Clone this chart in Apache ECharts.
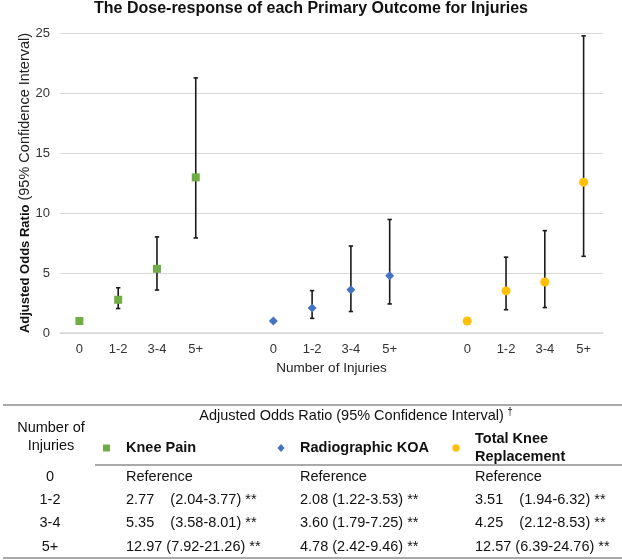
<!DOCTYPE html>
<html><head><meta charset="utf-8">
<script src="https://cdn.jsdelivr.net/npm/echarts@6/dist/echarts.min.js"></script>
<style>html,body{margin:0;padding:0;background:#fff}#c{width:622px;height:560px}</style>
</head><body><div id="c"></div>
<script>
// ---- data ----
const groupLabels = ['0', '1-2', '3-4', '5+'];
const seriesNames = ['Knee Pain', 'Radiographic KOA', 'Total Knee Replacement'];
const kneePainOR = [1, 2.77, 5.35, 12.97];
const kneePainLo = [null, 2.04, 3.58, 7.92];
const kneePainHi = [null, 3.77, 8.01, 21.26];
const koaOR = [1, 2.08, 3.60, 4.78];
const koaLo = [null, 1.22, 1.79, 2.42];
const koaHi = [null, 3.53, 7.25, 9.46];
const tkrOR = [1, 3.51, 4.25, 12.57];
const tkrLo = [null, 1.94, 2.12, 6.39];
const tkrHi = [null, 6.32, 8.53, 24.76];
const yTicks = [0, 5, 10, 15, 20, 25];

const FONT = "'Liberation Sans', Arial, sans-serif";
const colors = ['#70AD47', '#4472C4', '#FFC000'];
const symbols = ['rect', 'diamond', 'circle'];
const symbolSizes = [8, [9, 9], 9];
const ORs = [kneePainOR, koaOR, tkrOR];
const LOs = [kneePainLo, koaLo, tkrLo];
const HIs = [kneePainHi, koaHi, tkrHi];

// categories: 3 groups of 4 separated by blank slots
const categories = [];
groupLabels.forEach(l => categories.push(l)); categories.push('');
groupLabels.forEach(l => categories.push(l)); categories.push('');
groupLabels.forEach(l => categories.push(l));

const series = [];
const errData = [];
ORs.forEach((arr, g) => {
  arr.forEach((v, i) => {
    if (LOs[g][i] != null) errData.push([g * 5 + i, LOs[g][i], HIs[g][i]]);
  });
});
series.push({
  type: 'custom', z: 1, silent: true,
  data: errData,
  encode: { x: 0, y: [1, 2] },
  renderItem: function (params, api) {
    const lo = api.coord([api.value(0), api.value(1)]);
    const hi = api.coord([api.value(0), api.value(2)]);
    const w = 2.2;
    const st = { stroke: '#1a1a1a', lineWidth: 1.6 };
    return {
      type: 'group', children: [
        { type: 'line', shape: { x1: lo[0], y1: lo[1], x2: hi[0], y2: hi[1] }, style: st },
        { type: 'line', shape: { x1: lo[0] - w, y1: lo[1], x2: lo[0] + w, y2: lo[1] }, style: st },
        { type: 'line', shape: { x1: hi[0] - w, y1: hi[1], x2: hi[0] + w, y2: hi[1] }, style: st }
      ]
    };
  }
});
ORs.forEach((arr, g) => {
  series.push({
    name: seriesNames[g], type: 'scatter', z: 5,
    symbol: symbols[g], symbolSize: symbolSizes[g],
    itemStyle: { color: colors[g], opacity: 1 },
    data: arr.map((v, i) => [g * 5 + i, v])
  });
});

// ---- table (graphic) ----
const fmt = v => v.toFixed(2);
const padCols = [true, false, true];
const colX = [126, 300, 475];
const rowY = [477, 500, 523, 547];
const TF = '14.5px ' + FONT;
const tStyle = { font: TF, fill: '#111' };
const graphics = [];
// y-axis title (rotated)
graphics.push({
  type: 'text', x: 25, y: 183, rotation: Math.PI / 2,
  style: {
    text: '{b|Adjusted Odds Ratio}{r| (95% Confidence Interval)}',
    align: 'center', verticalAlign: 'middle',
    rich: { b: { font: 'bold 13px ' + FONT, fill: '#111' }, r: { font: '14.5px ' + FONT, fill: '#222' } }
  }
});
const line = (x1, y1, x2, y2, w) => graphics.push({ type: 'line', shape: { x1, y1, x2, y2 }, style: { stroke: '#8c8c8c', lineWidth: w } });
line(3, 405, 622, 405, 1.6);
line(95, 465, 622, 465, 1.6);
line(3, 558, 622, 558, 1.6);
graphics.push({ type: 'text', x: 356, y: 416, style: { text: '{n|Adjusted Odds Ratio (95% Confidence Interval)} {s|†}', align: 'center', verticalAlign: 'middle', fill: '#111', rich: { n: { font: TF }, s: { font: '10px ' + FONT, verticalAlign: 'top', padding: [0, 0, 8, 0] } } } });
graphics.push({ type: 'text', x: 51, y: 437, style: { text: 'Number of\nInjuries', align: 'center', verticalAlign: 'middle', font: TF, lineHeight: 18, fill: '#111' } });
// legend markers
graphics.push({ type: 'rect', shape: { x: 103, y: 444.5, width: 7, height: 7 }, style: { fill: colors[0] } });
graphics.push({ type: 'polygon', shape: { points: [[281, 444], [284.5, 448], [281, 452], [277.5, 448]] }, style: { fill: colors[1] } });
graphics.push({ type: 'circle', shape: { cx: 456, cy: 448, r: 3.7 }, style: { fill: colors[2] } });
const legendText = ['Knee Pain', 'Radiographic KOA', 'Total Knee\nReplacement'];
legendText.forEach((t, g) => graphics.push({ type: 'text', x: colX[g], y: 448, style: { text: t, align: 'left', verticalAlign: 'middle', font: 'bold 14.5px ' + FONT, lineHeight: 18, fill: '#111' } }));
groupLabels.forEach((l, i) => {
  graphics.push({ type: 'text', x: 50, y: rowY[i], style: Object.assign({ text: l, align: 'center', verticalAlign: 'middle' }, tStyle) });
  ORs.forEach((arr, g) => {
    let s;
    if (LOs[g][i] == null) s = 'Reference';
    else s = fmt(arr[i]) + (padCols[g] && arr[i] < 10 ? '    ' : ' ') + '(' + fmt(LOs[g][i]) + '-' + fmt(HIs[g][i]) + ') **';
    graphics.push({ type: 'text', x: colX[g], y: rowY[i], style: Object.assign({ text: s, align: 'left', verticalAlign: 'middle' }, tStyle) });
  });
});

const chart = echarts.init(document.getElementById('c'), null, { renderer: 'canvas' });
chart.setOption({
  animation: false,
  backgroundColor: '#fff',
  textStyle: { fontFamily: FONT },
  title: {
    text: 'The Dose-response of each Primary Outcome for Injuries',
    left: 'center', top: 0, padding: [1, 0, 0, 0],
    textStyle: { fontSize: 16, fontWeight: 'bold', color: '#111', fontFamily: FONT }
  },
  grid: { left: 60, right: 19, top: 33, bottom: 227, containLabel: false },
  xAxis: {
    type: 'category', data: categories, boundaryGap: true,
    name: 'Number of Injuries', nameLocation: 'middle', nameGap: 28,
    nameTextStyle: { fontSize: 13.5, color: '#222', fontFamily: FONT },
    axisLine: { lineStyle: { color: '#d9d9d9', width: 1.5 } },
    axisTick: { show: false },
    axisLabel: { fontSize: 13, color: '#333', margin: 10, interval: 0, fontFamily: FONT }
  },
  yAxis: {
    type: 'value', min: yTicks[0], max: yTicks[yTicks.length - 1], interval: 5,
    axisLine: { show: false }, axisTick: { show: false },
    axisLabel: { fontSize: 13, color: '#333', margin: 10, fontFamily: FONT },
    splitLine: { lineStyle: { color: '#d9d9d9', width: 1.2 } }
  },
  series: series,
  graphic: graphics
});
</script></body></html>
